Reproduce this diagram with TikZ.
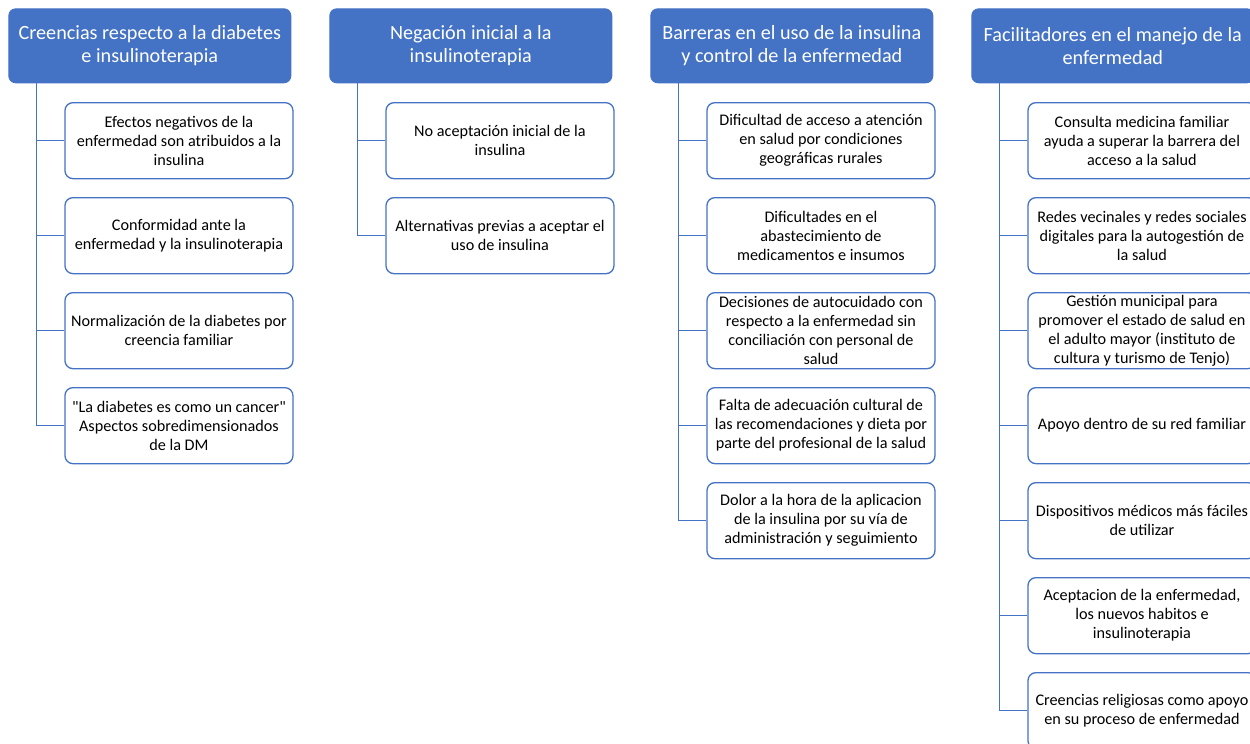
\documentclass[tikz,border=0pt]{standalone}
\usepackage{fontspec}
\setmainfont{Carlito}[Ligatures=TeXOff]
\usepackage{tikz}
\usetikzlibrary{positioning}
\definecolor{orgblue}{HTML}{4472C4}
\tikzset{
    head/.style={draw=orgblue,fill=orgblue,text=white,rounded corners=7pt,line width=1pt,
        minimum width=282pt,minimum height=74pt,align=center,inner sep=2pt,
        font=\fontsize{20.2}{23}\selectfont},
    item/.style={draw=orgblue,fill=white,rounded corners=8pt,line width=1.3pt,
        minimum width=228pt,minimum height=76pt,align=center,inner xsep=2pt,inner ysep=0.5pt,
        font=\fontsize{16.2}{19}\selectfont},
    link/.style={draw=orgblue,line width=1.3pt},
}

\begin{document}
\begin{tikzpicture}[x=1pt,y=1pt,node distance=17.7pt]
    \useasboundingbox (0,0) rectangle (1250,-744);

    % column 1
    \node[head,anchor=north west] (h1) at (8.3,-8.3) {Creencias respecto a la diabetes\\e insulinoterapia};
    \node[item,below right=18.7pt and 56pt of h1.south west] (a1) {Efectos negativos de la\\enfermedad son atribuidos a la\\insulina};
    \node[item,below=of a1] (a2) {Conformidad ante la\\enfermedad y la insulinoterapia};
    \node[item,below=of a2] (a3) {Normalización de la diabetes por\\creencia familiar};
    \node[item,below=of a3] (a4) {"La diabetes es como un cancer"\\Aspectos sobredimensionados\\de la DM};

    % column 2
    \node[head,right=38pt of h1] (h2) {Negación inicial a la\\insulinoterapia};
    \node[item,below right=18.7pt and 56pt of h2.south west] (b1) {No aceptación inicial de la\\insulina};
    \node[item,below=of b1] (b2) {Alternativas previas a aceptar el\\uso de insulina};

    % column 3
    \node[head,right=38pt of h2] (h3) {Barreras en el uso de la insulina\\y control de la enfermedad};
    \node[item,below right=18.7pt and 56pt of h3.south west] (c1) {Dificultad de acceso a atención\\en salud por condiciones\\geográficas rurales};
    \node[item,below=of c1] (c2) {Dificultades en el\\abastecimiento de\\medicamentos e insumos};
    \node[item,below=of c2] (c3) {Decisiones de autocuidado con\\respecto a la enfermedad sin\\conciliación con personal de\\salud};
    \node[item,below=of c3] (c4) {Falta de adecuación cultural de\\las recomendaciones y dieta por\\parte del profesional de la salud};
    \node[item,below=of c4] (c5) {Dolor a la hora de la aplicacion\\de la insulina por su vía de\\administración y seguimiento};

    % column 4
    \node[head,right=38pt of h3] (h4) {Facilitadores en el manejo de la\\enfermedad};
    \node[item,below right=18.7pt and 56pt of h4.south west] (d1) {Consulta medicina familiar\\ayuda a superar la barrera del\\acceso a la salud};
    \node[item,below=of d1] (d2) {Redes vecinales y redes sociales\\digitales para la autogestión de\\la salud};
    \node[item,below=of d2] (d3) {Gestión municipal para\\promover el estado de salud en\\el adulto mayor (instituto de\\cultura y turismo de Tenjo)};
    \node[item,below=of d3] (d4) {Apoyo dentro de su red familiar};
    \node[item,below=of d4] (d5) {Dispositivos médicos más fáciles\\de utilizar};
    \node[item,below=of d5] (d6) {Aceptacion de la enfermedad,\\los nuevos habitos e\\insulinoterapia};
    \node[item,below=of d6] (d7) {Creencias religiosas como apoyo\\en su proceso de enfermedad};

    % tree lines
    \foreach \h/\k in {h1/a1,h1/a2,h1/a3,h1/a4,h2/b1,h2/b2,
                      h3/c1,h3/c2,h3/c3,h3/c4,h3/c5,
                      h4/d1,h4/d2,h4/d3,h4/d4,h4/d5,h4/d6,h4/d7}
        \draw[link] ([xshift=28pt]\h.south west) |- (\k.west);
\end{tikzpicture}
\end{document}
